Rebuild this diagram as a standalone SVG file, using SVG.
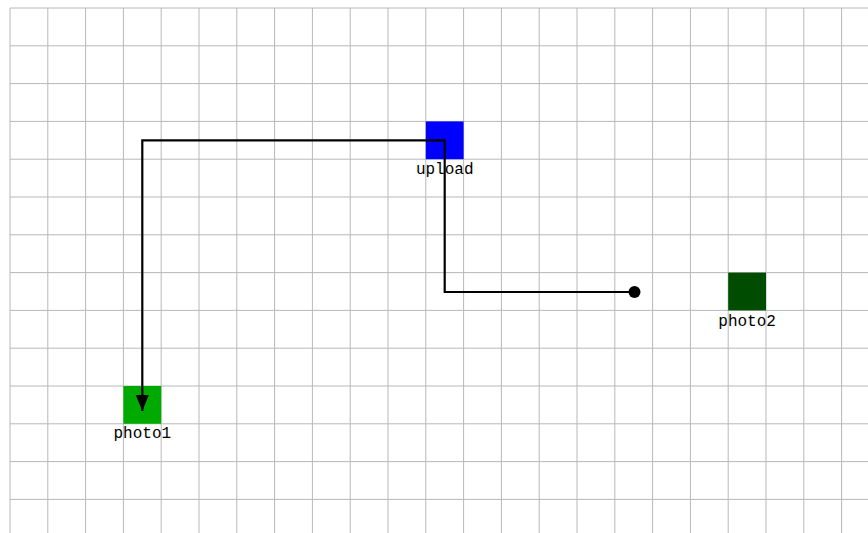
<svg xmlns="http://www.w3.org/2000/svg" width="868" height="533" viewBox="0 0 868 533">
<defs>
<style>
.grid{fill:none;stroke:#b8b8b8;stroke-width:1}
.lbl{font-family:"Liberation Mono","DejaVu Sans Mono",monospace;font-size:16px;fill:#000;text-anchor:middle}
.conn{fill:none;stroke:#000;stroke-width:2.2;stroke-linejoin:miter}
</style>
<marker id="arrow" markerUnits="userSpaceOnUse" markerWidth="17" markerHeight="14" refX="16" refY="6.5" orient="auto">
<path d="M0,0 L16,6.5 L0,13 z" fill="#000"/>
</marker>
<marker id="dot" markerUnits="userSpaceOnUse" markerWidth="13" markerHeight="13" refX="6.5" refY="6.5">
<circle cx="6.5" cy="6.5" r="6" fill="#000"/>
</marker>
</defs>
<rect width="868" height="533" fill="#fff"/>
<path class="grid" d="M10,8V533 M47.8,8V533 M85.6,8V533 M123.4,8V533 M161.2,8V533 M199,8V533 M236.8,8V533 M274.6,8V533 M312.4,8V533 M350.2,8V533 M388,8V533 M425.8,8V533 M463.6,8V533 M501.4,8V533 M539.2,8V533 M577,8V533 M614.8,8V533 M652.6,8V533 M690.4,8V533 M728.2,8V533 M766,8V533 M803.8,8V533 M841.6,8V533 M10,8H868 M10,45.8H868 M10,83.6H868 M10,121.4H868 M10,159.2H868 M10,197H868 M10,234.8H868 M10,272.6H868 M10,310.4H868 M10,348.2H868 M10,386H868 M10,423.8H868 M10,461.6H868 M10,499.4H868"/>
<g id="upload">
<rect x="425.8" y="121.4" width="37.8" height="37.8" fill="#0000ff"/>
<text class="lbl" x="444.7" y="174.3">upload</text>
</g>
<g id="photo1">
<rect x="123.4" y="386" width="37.8" height="37.8" fill="#00aa00"/>
<text class="lbl" x="142.3" y="438">photo1</text>
</g>
<g id="photo2">
<rect x="728.2" y="272.6" width="37.8" height="37.8" fill="#004c00"/>
<text class="lbl" x="747.1" y="325.7">photo2</text>
</g>
<g id="connectors">
<path class="conn" d="M634.5,292 H444.7 V140.3 H142.3 V411" marker-start="url(#dot)" marker-end="url(#arrow)"/>
</g>
</svg>
